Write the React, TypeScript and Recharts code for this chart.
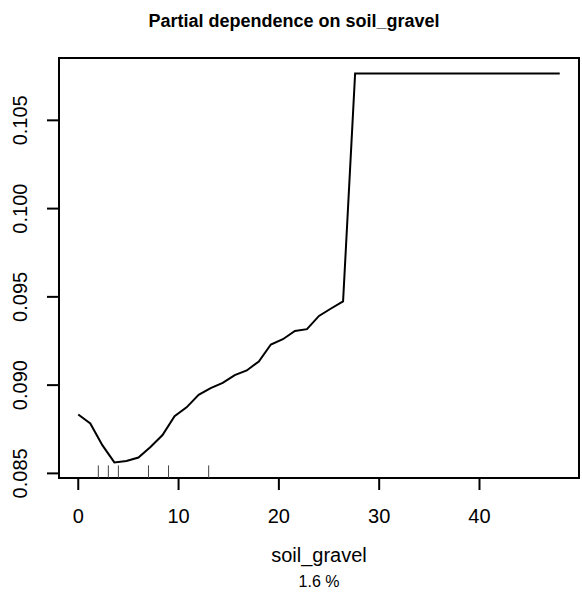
import React from 'react';
import { ComposedChart, Line, XAxis, YAxis, ReferenceArea, ReferenceLine } from 'recharts';

const gridX = [0, 1.2, 2.4, 3.6, 4.8, 6, 7.2, 8.4, 9.6, 10.8, 12, 13.2, 14.4, 15.6, 16.8, 18, 19.2, 20.4, 21.6, 22.8, 24, 25.2, 26.4, 27.6, 28.8, 30, 31.2, 32.4, 33.6, 34.8, 36, 37.2, 38.4, 39.6, 40.8, 42, 43.2, 44.4, 45.6, 46.8, 48];
const partialDep = [0.08834, 0.08783, 0.0866, 0.08562, 0.0857, 0.0859, 0.0865, 0.08717, 0.08824, 0.08874, 0.08945, 0.08983, 0.09013, 0.09057, 0.09083, 0.09134, 0.0923, 0.0926, 0.09307, 0.09317, 0.09392, 0.09434, 0.09474, 0.10765, 0.10765, 0.10765, 0.10765, 0.10765, 0.10765, 0.10765, 0.10765, 0.10765, 0.10765, 0.10765, 0.10765, 0.10765, 0.10765, 0.10765, 0.10765, 0.10765, 0.10765];
const rugX = [2, 3, 4, 7, 9, 13];
const xTicks = [0, 10, 20, 30, 40];
const yTicks = [0.085, 0.09, 0.095, 0.1, 0.105];

const title = 'Partial dependence on soil_gravel';
const xLabel = 'soil_gravel';
const subLabel = '1.6 %';

const data = gridX.map((x, i) => ({ x, y: partialDep[i] }));

// R-style 4% axis padding
const xMinData = Math.min(...gridX), xMaxData = Math.max(...gridX);
const xPad = (xMaxData - xMinData) * 0.04;
const xDomain: [number, number] = [xMinData - xPad, xMaxData + xPad];
const yMinData = Math.min(...partialDep), yMaxData = Math.max(...partialDep);
const yPad = (yMaxData - yMinData) * 0.04;
const yDomain: [number, number] = [yMinData - yPad, yMaxData + yPad];
const rugLen = (yDomain[1] - yDomain[0]) * 0.03;

const FONT = '"Liberation Sans", Arial, Helvetica, sans-serif';

const XTick = (props: any) => {
  const { x, y, payload } = props;
  return (
    <text x={x} y={y + 31} textAnchor="middle" fontFamily={FONT} fontSize={20} fill="#000">
      {payload.value}
    </text>
  );
};

const YTick = (props: any) => {
  const { x, y, payload } = props;
  const tx = x - 18;
  return (
    <text x={tx} y={y} transform={`rotate(-90, ${tx}, ${y})`} textAnchor="middle" fontFamily={FONT} fontSize={20} fill="#000">
      {Number(payload.value).toFixed(3)}
    </text>
  );
};

export default function App() {
  return (
    <div style={{ position: 'fixed', left: 0, top: 0, width: 582, height: 595, background: '#fff' }}>
      <ComposedChart width={582} height={595} data={data} margin={{ top: 58, right: 3, left: 0, bottom: 0 }}>
        <XAxis
          dataKey="x"
          type="number"
          domain={xDomain}
          ticks={xTicks}
          allowDataOverflow
          axisLine={false}
          tickLine={{ stroke: '#000', strokeWidth: 2 }}
          tickSize={12}
          height={117}
          tick={<XTick />}
          interval={0}
        />
        <YAxis
          type="number"
          domain={yDomain}
          ticks={yTicks}
          allowDataOverflow
          axisLine={false}
          tickLine={{ stroke: '#000', strokeWidth: 2 }}
          tickSize={12}
          width={59}
          tick={<YTick />}
          interval={0}
        />
        <ReferenceArea x1={xDomain[0]} x2={xDomain[1]} y1={yDomain[0]} y2={yDomain[1]} fill="none" stroke="#000" strokeWidth={2} fillOpacity={0} ifOverflow="visible" />
        {rugX.map((rx) => (
          <ReferenceLine key={rx} segment={[{ x: rx, y: yDomain[0] }, { x: rx, y: yDomain[0] + rugLen }]} stroke="#444" strokeWidth={1} ifOverflow="visible" />
        ))}
        <Line type="linear" dataKey="y" stroke="#000" strokeWidth={2} dot={false} isAnimationActive={false} />
        <text x={294} y={26.5} textAnchor="middle" fontFamily={FONT} fontSize={18} fontWeight="bold" fill="#000">{title}</text>
        <text x={319} y={562} textAnchor="middle" fontFamily={FONT} fontSize={20} fill="#000">{xLabel}</text>
        <text x={319} y={587} textAnchor="middle" fontFamily={FONT} fontSize={16} fill="#000">{subLabel}</text>
      </ComposedChart>
    </div>
  );
}
